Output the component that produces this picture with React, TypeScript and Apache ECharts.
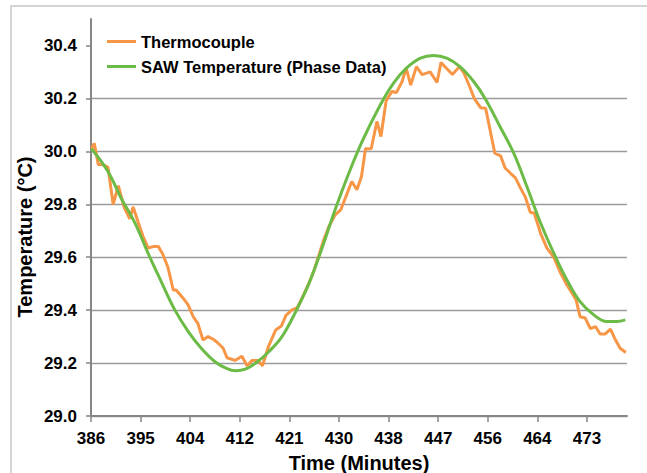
import React, { useEffect, useRef } from "react";
import * as echarts from "echarts";

// Thermocouple readings (time in minutes, temperature in °C)
const thermoTime = [
  386.4, 386.9, 387.6, 388.4, 389.3, 390.2, 391.1, 392.1, 393.1, 393.7,
  394.6, 395.4, 396.3, 397.2, 398.1, 398.9, 399.8, 400.7, 401.2, 402.4,
  403.3, 404.2, 405.0, 405.9, 406.8, 407.7, 408.5, 409.4, 410.1, 411.5,
  412.7, 413.6, 414.5, 415.5, 416.3, 417.3, 418.6, 419.6, 420.4, 421.4,
  422.4, 423.2, 424.4, 425.3, 426.2, 427.0, 427.9, 429.0, 430.0, 430.9,
  431.9, 432.8, 433.6, 434.3, 435.3, 436.3, 437.0, 437.9, 438.9, 439.7,
  440.7, 441.4, 442.2, 443.2, 444.2, 445.6, 446.8, 447.5, 448.4, 449.5,
  450.7, 451.5, 452.5, 453.3, 454.4, 455.3, 456.9, 457.9, 458.7, 459.6,
  460.5, 461.4, 462.2, 463.1, 463.8, 464.9, 466.0, 467.2, 468.4, 469.5,
  470.4, 471.1, 471.8, 472.7, 473.6, 474.5, 475.3, 476.2, 477.1, 478.0,
  478.8, 479.8,
];
const thermoTemp = [
  30.01, 30.03, 29.95, 29.95, 29.94, 29.8, 29.87, 29.79, 29.745, 29.79,
  29.73, 29.68, 29.635, 29.64, 29.64, 29.61, 29.56, 29.476, 29.476, 29.446,
  29.42, 29.375, 29.35, 29.287, 29.3, 29.29, 29.276, 29.257, 29.22, 29.21,
  29.226, 29.19, 29.21, 29.21, 29.19, 29.26, 29.325, 29.34, 29.38, 29.4,
  29.41, 29.445, 29.5, 29.55, 29.61, 29.665, 29.716, 29.76, 29.78, 29.83,
  29.886, 29.855, 29.905, 30.01, 30.01, 30.113, 30.056, 30.19, 30.226, 30.222,
  30.264, 30.315, 30.25, 30.32, 30.29, 30.3, 30.26, 30.336, 30.315, 30.29,
  30.32, 30.296, 30.245, 30.2, 30.165, 30.163, 29.993, 29.983, 29.937, 29.918,
  29.9, 29.861, 29.829, 29.77, 29.766, 29.69, 29.634, 29.6, 29.54, 29.495,
  29.464, 29.439, 29.375, 29.37, 29.33, 29.338, 29.31, 29.31, 29.328, 29.287,
  29.256, 29.24,
];

// SAW temperature derived from phase data
const sawTime = [
  386.4, 389.3, 391.6, 394.0, 396.3, 398.6, 401.0, 403.3, 405.6, 408.0,
  410.0, 411.6, 413.3, 415.1, 417.4, 419.7, 422.1, 424.4, 426.7, 429.0,
  431.4, 433.7, 436.9, 439.2, 441.5, 443.9, 446.2, 448.5, 450.8, 453.2,
  455.2, 457.8, 460.2, 462.5, 464.8, 467.2, 469.5, 471.8, 474.2, 476.5,
  478.2, 479.7,
];
const sawTemp = [
  30.01, 29.924, 29.823, 29.73, 29.615, 29.508, 29.4, 29.32, 29.256, 29.205,
  29.18, 29.171, 29.177, 29.2, 29.243, 29.3, 29.394, 29.5, 29.634, 29.78,
  29.918, 30.037, 30.176, 30.258, 30.315, 30.352, 30.362, 30.352, 30.32, 30.264,
  30.2, 30.094, 29.993, 29.867, 29.735, 29.615, 29.514, 29.432, 29.382, 29.357,
  29.357, 29.363,
];

const xTickLabels = ["386", "395", "404", "412", "421", "430", "438", "447", "456", "464", "473"];
const xTickValues = [386.33, 395, 403.67, 412.33, 421, 429.67, 438.33, 447, 455.67, 464.33, 473];
const yTickValues = [29.0, 29.2, 29.4, 29.6, 29.8, 30.0, 30.2, 30.4];

const FONT = '"Liberation Sans", Arial, sans-serif';

export default function App() {
  const ref = useRef<HTMLDivElement>(null);
  useEffect(() => {
    if (!ref.current) return;
    const chart = echarts.init(ref.current, null, { renderer: "svg" });
    const thermo = thermoTime.map((t, i) => [t, thermoTemp[i]]);
    const saw = sawTime.map((t, i) => [t, sawTemp[i]]);
    chart.setOption({
      animation: false,
      backgroundColor: "#ffffff",
      textStyle: { fontFamily: FONT },
      grid: { left: 91, right: 20, top: 19, bottom: 57, containLabel: false, outerBoundsMode: "none" },
      graphic: [
        {
          type: "rect",
          shape: { x: 11, y: 6, width: 700, height: 520 },
          style: { fill: "none", stroke: "#c8c8c8", lineWidth: 1.5 },
          silent: true,
        },
        {
          type: "text",
          x: 25,
          y: 237,
          rotation: Math.PI / 2,
          style: {
            text: "Temperature (°C)",
            font: `bold 20px ${FONT}`,
            fill: "#000",
            align: "center",
            verticalAlign: "middle",
          },
        },
      ],
      legend: {
        orient: "vertical",
        left: 102,
        top: 28,
        icon: "rect",
        itemWidth: 29,
        itemHeight: 3,
        itemGap: 8,
        textStyle: { fontFamily: FONT, fontWeight: "bold", fontSize: 16.5, color: "#000", lineHeight: 17 },
        data: ["Thermocouple", "SAW Temperature (Phase Data)"],
      },
      xAxis: {
        type: "value",
        min: 386.33,
        max: 480,
        name: "Time (Minutes)",
        nameLocation: "middle",
        nameGap: 37,
        nameTextStyle: { fontFamily: FONT, fontWeight: "bold", fontSize: 20, color: "#000" },
        axisLine: { show: true, lineStyle: { color: "#868686", width: 2 } },
        axisTick: { show: true, length: 6, customValues: xTickValues, lineStyle: { color: "#868686", width: 1.5 } },
        axisLabel: {
          customValues: xTickValues,
          margin: 14,
          fontFamily: FONT,
          fontWeight: "bold",
          fontSize: 17,
          color: "#000",
          formatter: (v: number) => {
            const idx = xTickValues.findIndex((x) => Math.abs(x - v) < 0.01);
            return idx >= 0 ? xTickLabels[idx] : "";
          },
        },
        splitLine: { show: false },
      },
      yAxis: {
        type: "value",
        min: 29,
        max: 30.5,
        interval: 0.2,
        axisLine: { show: true, lineStyle: { color: "#868686", width: 2 } },
        axisTick: { show: true, length: 5, customValues: yTickValues, lineStyle: { color: "#868686", width: 1.5 } },
        axisLabel: {
          customValues: yTickValues,
          margin: 14,
          fontFamily: FONT,
          fontWeight: "bold",
          fontSize: 17,
          color: "#000",
          formatter: (v: number) => v.toFixed(1),
        },
        splitLine: { show: true, showMaxLine: false, lineStyle: { color: "#9a9a9a", width: 1.3 } },
      },
      series: [
        {
          name: "Thermocouple",
          type: "line",
          data: thermo,
          symbol: "none",
          lineStyle: { color: "#F79646", width: 3 },
          itemStyle: { color: "#F79646" },
          z: 2,
        },
        {
          name: "SAW Temperature (Phase Data)",
          type: "line",
          data: saw,
          symbol: "none",
          smooth: 0.4,
          lineStyle: { color: "#6CBB47", width: 3 },
          itemStyle: { color: "#6CBB47" },
          z: 3,
        },
      ],
    });
    return () => chart.dispose();
  }, []);
  return (
    <div
      ref={ref}
      style={{ position: "fixed", left: 0, top: 0, width: 647, height: 473 }}
    />
  );
}
